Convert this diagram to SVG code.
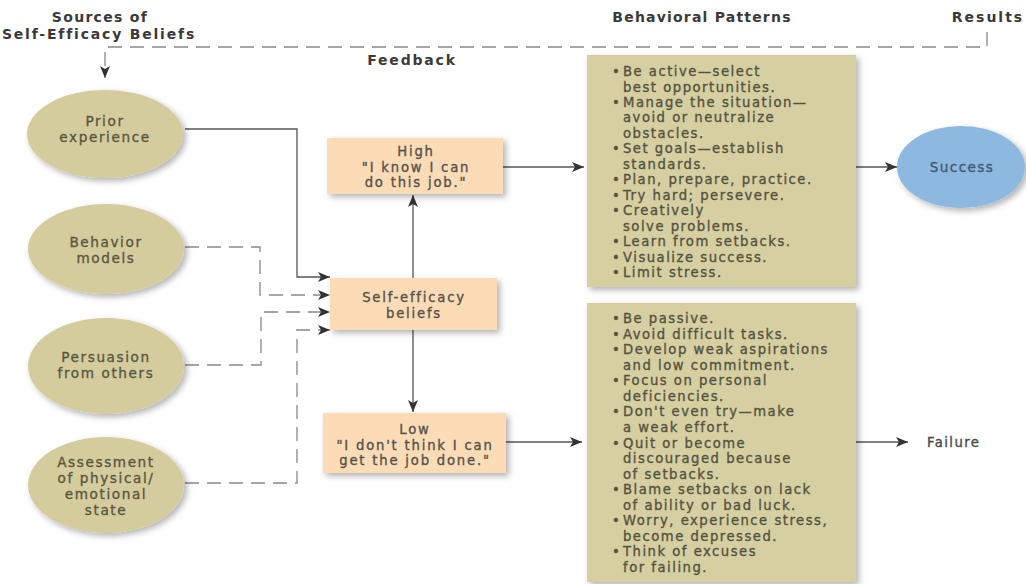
<svg xmlns="http://www.w3.org/2000/svg" width="1026" height="584" viewBox="0 0 1026 584">
<style>
.hd{font-family:"DejaVu Sans","Liberation Sans",sans-serif;font-weight:700;font-size:14px;fill:#3a3a3a}
.t{font-family:"DejaVu Sans","Liberation Sans",sans-serif;font-size:13.2px;fill:#55533f;stroke:#55533f;stroke-width:0.35;letter-spacing:1.5px}
.e{font-family:"DejaVu Sans","Liberation Sans",sans-serif;font-size:13.6px;fill:#5a573f;stroke:#5a573f;stroke-width:0.35;text-anchor:middle;letter-spacing:1.6px}
.b{font-family:"DejaVu Sans","Liberation Sans",sans-serif;font-size:13.2px;fill:#55524a;stroke:#55524a;stroke-width:0.35;text-anchor:middle;letter-spacing:1.8px}
.ell{fill:#d5cc9e}
.peach{fill:#fcdcb6}
.olive{fill:#d6cfa2}
.sol{fill:none;stroke:#555;stroke-width:1.3}
.dsh{fill:none;stroke:#888;stroke-width:1.3;stroke-dasharray:14 8}
</style>
<defs>
<marker id="ah" viewBox="0 0 12 10" refX="12" refY="5" markerWidth="12" markerHeight="10" markerUnits="userSpaceOnUse" orient="auto">
<path d="M0,0 L12,5 L0,10 L3,5 Z" fill="#333"/>
</marker>
<filter id="sh" x="-20%" y="-20%" width="150%" height="150%">
<feDropShadow dx="3" dy="3" stdDeviation="3" flood-color="#000" flood-opacity="0.3"/>
</filter>
</defs>

<g id="headers">
<text class="hd" x="100" y="22" text-anchor="middle" style="letter-spacing:1.3px">Sources of</text>
<text class="hd" x="99" y="38.5" text-anchor="middle" style="letter-spacing:1.8px">Self-Efficacy Beliefs</text>
<text class="hd" x="702" y="22" text-anchor="middle" style="letter-spacing:1.2px">Behavioral Patterns</text>
<text class="hd" x="988" y="22" text-anchor="middle" style="letter-spacing:2px">Results</text>
<text class="hd" x="412" y="65" text-anchor="middle" style="letter-spacing:1.8px">Feedback</text>
</g>

<g id="connectors">
<path class="dsh" d="M987,32 V47 H105 V78" marker-end="url(#ah)"/>
<path class="sol" d="M185,129 H297 V277 H330" marker-end="url(#ah)"/>
<path class="dsh" d="M185,247 H260 V295 H330" marker-end="url(#ah)"/>
<path class="dsh" d="M185,365 H261 V312 H330" marker-end="url(#ah)"/>
<path class="dsh" d="M185,483 H297 V330 H330" marker-end="url(#ah)"/>
<path class="sol" d="M413,278 V195" marker-end="url(#ah)"/>
<path class="sol" d="M413,330 V412" marker-end="url(#ah)"/>
<path class="sol" d="M503,167 H584" marker-end="url(#ah)"/>
<path class="sol" d="M506,442 H582" marker-end="url(#ah)"/>
<path class="sol" d="M856,167 H897" marker-end="url(#ah)"/>
<path class="sol" d="M856,442 H908" marker-end="url(#ah)"/>
</g>

<g id="prior-experience">
<ellipse class="ell" cx="105" cy="134" rx="78" ry="44" filter="url(#sh)"/>
<text class="e" x="105" y="126">Prior</text>
<text class="e" x="105" y="142">experience</text>
</g>
<g id="behavior-models">
<ellipse class="ell" cx="106" cy="249" rx="78" ry="45" filter="url(#sh)"/>
<text class="e" x="106" y="247">Behavior</text>
<text class="e" x="106" y="263">models</text>
</g>
<g id="persuasion">
<ellipse class="ell" cx="106" cy="366" rx="78" ry="48" filter="url(#sh)"/>
<text class="e" x="106" y="362">Persuasion</text>
<text class="e" x="106" y="378">from others</text>
</g>
<g id="assessment">
<ellipse class="ell" cx="106" cy="485" rx="78" ry="48" filter="url(#sh)"/>
<text class="e" x="106" y="467">Assessment</text>
<text class="e" x="106" y="483">of physical/</text>
<text class="e" x="106" y="499">emotional</text>
<text class="e" x="106" y="515">state</text>
</g>

<g id="self-efficacy">
<rect class="peach" x="330" y="278" width="167" height="52" filter="url(#sh)"/>
<text class="b" x="414" y="302">Self-efficacy</text>
<text class="b" x="414" y="318">beliefs</text>
</g>
<g id="high">
<rect class="peach" x="327" y="138" width="176" height="56" filter="url(#sh)"/>
<text class="b" x="416" y="156">High</text>
<text class="b" x="416" y="171.5">"I know I can</text>
<text class="b" x="416" y="187">do this job."</text>
</g>
<g id="low">
<rect class="peach" x="323" y="413" width="183" height="60" filter="url(#sh)"/>
<text class="b" x="415" y="434">Low</text>
<text class="b" x="415" y="449.5">"I don't think I can</text>
<text class="b" x="415" y="465">get the job done."</text>
</g>

<g id="high-patterns">
<rect class="olive" x="587" y="55" width="269" height="232" filter="url(#sh)"/>
<g class="t">
<text x="612" y="76">•</text><text x="623" y="76">Be active—select</text>
<text x="623" y="91.5">best opportunities.</text>
<text x="612" y="107">•</text><text x="623" y="107">Manage the situation—</text>
<text x="623" y="122.4">avoid or neutralize</text>
<text x="623" y="137.8">obstacles.</text>
<text x="612" y="153.3">•</text><text x="623" y="153.3">Set  goals—establish</text>
<text x="623" y="168.8">standards.</text>
<text x="612" y="184.2">•</text><text x="623" y="184.2">Plan, prepare, practice.</text>
<text x="612" y="199.7">•</text><text x="623" y="199.7">Try hard; persevere.</text>
<text x="612" y="215.1">•</text><text x="623" y="215.1">Creatively</text>
<text x="623" y="230.6">solve problems.</text>
<text x="612" y="246">•</text><text x="623" y="246">Learn from setbacks.</text>
<text x="612" y="261.5">•</text><text x="623" y="261.5">Visualize success.</text>
<text x="612" y="277">•</text><text x="623" y="277">Limit stress.</text>
</g>
</g>

<g id="low-patterns">
<rect class="olive" x="587" y="303" width="269" height="279" filter="url(#sh)"/>
<g class="t">
<text x="612" y="323">•</text><text x="623" y="323">Be passive.</text>
<text x="612" y="338.6">•</text><text x="623" y="338.6">Avoid difficult tasks.</text>
<text x="612" y="354.1">•</text><text x="623" y="354.1">Develop weak aspirations</text>
<text x="623" y="369.7">and low commitment.</text>
<text x="612" y="385.2">•</text><text x="623" y="385.2">Focus on personal</text>
<text x="623" y="400.8">deficiencies.</text>
<text x="612" y="416.4">•</text><text x="623" y="416.4">Don't even try—make</text>
<text x="623" y="431.9">a weak effort.</text>
<text x="612" y="447.5">•</text><text x="623" y="447.5">Quit or become</text>
<text x="623" y="463">discouraged because</text>
<text x="623" y="478.6">of setbacks.</text>
<text x="612" y="494.2">•</text><text x="623" y="494.2">Blame setbacks on lack</text>
<text x="623" y="509.7">of ability or bad luck.</text>
<text x="612" y="525.3">•</text><text x="623" y="525.3">Worry, experience stress,</text>
<text x="623" y="540.8">become depressed.</text>
<text x="612" y="556.4">•</text><text x="623" y="556.4">Think of excuses</text>
<text x="623" y="572">for failing.</text>
</g>
</g>

<g id="success">
<ellipse cx="961" cy="167" rx="64" ry="41" fill="#8db8df" filter="url(#sh)"/>
<text class="e" x="962" y="172" style="fill:#3f5a70;stroke:#3f5a70;letter-spacing:1.4px">Success</text>
</g>
<g id="failure">
<text class="t" x="927" y="447" style="fill:#4a4a4a;stroke:#4a4a4a;letter-spacing:1.4px">Failure</text>
</g>
</svg>
